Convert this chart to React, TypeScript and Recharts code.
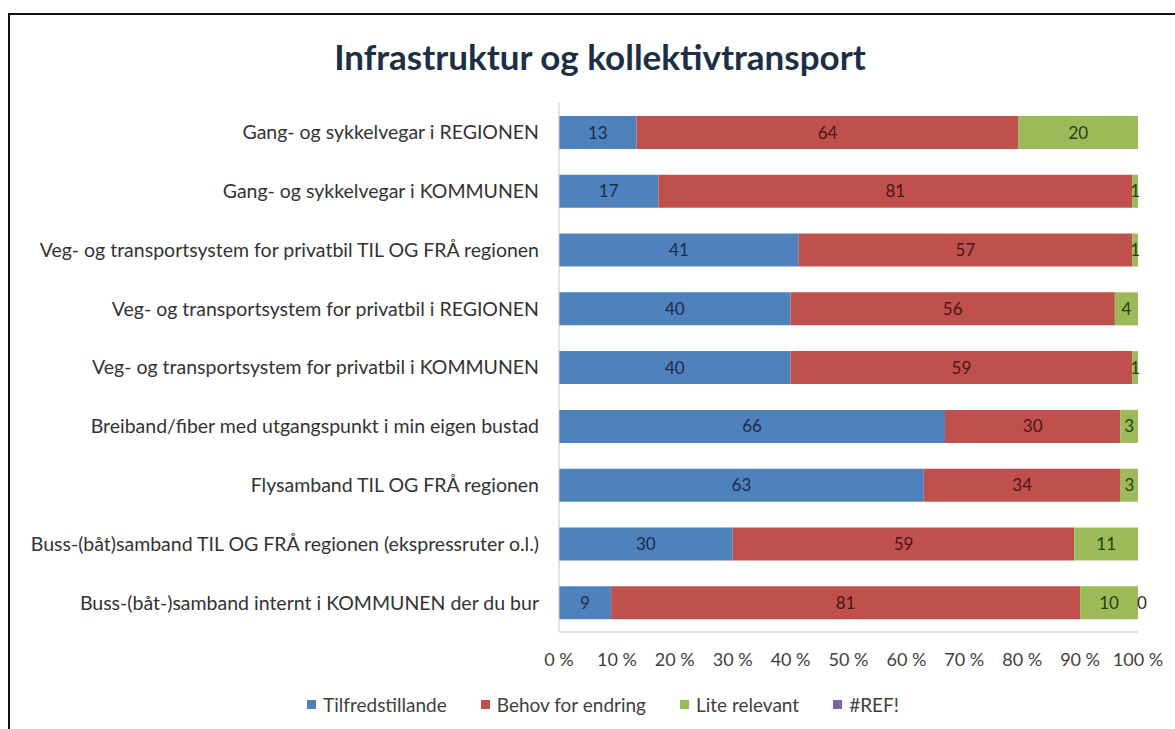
import { BarChart, Bar, XAxis, YAxis, Legend, LabelList } from 'recharts';

const categories = [
  'Gang- og sykkelvegar i REGIONEN',
  'Gang- og sykkelvegar i KOMMUNEN',
  'Veg- og transportsystem for privatbil TIL OG FRÅ regionen',
  'Veg- og transportsystem for privatbil i REGIONEN',
  'Veg- og transportsystem for privatbil i KOMMUNEN',
  'Breiband/fiber med utgangspunkt i min eigen bustad',
  'Flysamband TIL OG FRÅ regionen',
  'Buss-(båt)samband TIL OG FRÅ regionen (ekspressruter o.l.)',
  'Buss-(båt-)samband internt i KOMMUNEN der du bur',
];

const tilfredstillande = [13, 17, 41, 40, 40, 66, 63, 30, 9];
const behovForEndring = [64, 81, 57, 56, 59, 30, 34, 59, 81];
const liteRelevant = [20, 1, 1, 4, 1, 3, 3, 11, 10];
const refError = [null, null, null, null, null, null, null, null, 0];

const xTicks = [0, 0.1, 0.2, 0.3, 0.4, 0.5, 0.6, 0.7, 0.8, 0.9, 1];

const SERIES = [
  { key: 'tilf', name: 'Tilfredstillande', color: '#4F81BD', label: '#1d2c47' },
  { key: 'behov', name: 'Behov for endring', color: '#C0504D', label: '#4a1615' },
  { key: 'lite', name: 'Lite relevant', color: '#9BBB59', label: '#2c3b12' },
  { key: 'refErr', name: '#REF!', color: '#8064A2', label: '#2a2a2a' },
];

const data = categories.map((name, i) => ({
  name,
  tilf: tilfredstillande[i],
  behov: behovForEndring[i],
  lite: liteRelevant[i],
  refErr: refError[i],
}));

const FONT = 'Lato, "Open Sans", sans-serif';

function LegendContent() {
  return (
    <div style={{ display: 'flex', justifyContent: 'center', alignItems: 'center', fontFamily: FONT, fontSize: 19, color: '#404040' }}>
      {SERIES.map((s) => (
        <div key={s.key} style={{ display: 'flex', alignItems: 'center', marginRight: 34 }}>
          <div style={{ width: 9, height: 9, background: s.color, marginRight: 7 }} />
          <span>{s.name}</span>
        </div>
      ))}
    </div>
  );
}

// the #REF! bar has no width, so its label sits at the end of the stack
function RefLabel(props: any) {
  const { x, y, width, height, value } = props;
  if (value === null || value === undefined) return null;
  return (
    <text x={x + width + 4} y={y + height / 2} dy="0.35em" textAnchor="middle" fill="#2a2a2a" fontFamily={FONT} fontSize={17}>
      {value}
    </text>
  );
}

export default function App() {
  return (
    <div
      style={{
        position: 'fixed',
        top: 13,
        left: 8,
        width: 1167,
        height: 716,
        overflow: 'hidden',
        background: '#fff',
      }}
    >
      <style>{'html, body { overflow: hidden; }'}</style>
      <div style={{ position: 'absolute', left: 0, top: 0, width: 1167, height: 2, background: '#111' }} />
      <div style={{ position: 'absolute', left: 0, top: 0, width: 2, height: 716, background: '#111' }} />
      <div
        style={{
          position: 'absolute',
          top: 22,
          left: 0,
          width: 1184,
          textAlign: 'center',
          fontFamily: FONT,
          fontWeight: 700,
          fontSize: 35,
          color: '#1c2f45',
        }}
      >
        Infrastruktur og kollektivtransport
      </div>
      <div style={{ position: 'absolute', left: 2, top: 2 }}>
        <BarChart
          width={1165}
          height={714}
          data={data}
          layout="vertical"
          stackOffset="expand"
          margin={{ top: 88, right: 37, bottom: 6, left: 0 }}
        >
          <XAxis
            type="number"
            domain={[0, 1]}
            ticks={xTicks}
            tickFormatter={(v: number) => `${Math.round(v * 100)} %`}
            axisLine={{ stroke: '#c8c8c8' }}
            tickLine={false}
            tickMargin={15}
            height={61}
            tick={{ fontFamily: FONT, fontSize: 18, fill: '#404040' }}
          />
          <YAxis
            type="category"
            dataKey="name"
            width={549}
            axisLine={{ stroke: '#c8c8c8' }}
            tickLine={false}
            tickMargin={14}
            interval={0}
            tick={{ fontFamily: FONT, fontSize: 19.5, fill: '#333' }}
          />
          <Legend verticalAlign="bottom" height={30} wrapperStyle={{ left: 60, width: 1100 }} content={<LegendContent />} />
          {SERIES.map((s) => (
            <Bar key={s.key} dataKey={s.key} name={s.name} stackId="a" fill={s.color} barSize={33} isAnimationActive={false}>
              <LabelList dataKey={s.key} position="center" fill={s.label} fontFamily={FONT} fontSize={17} />
              {s.key === 'lite' && <LabelList dataKey="refErr" content={RefLabel} />}
            </Bar>
          ))}
        </BarChart>
      </div>
    </div>
  );
}
